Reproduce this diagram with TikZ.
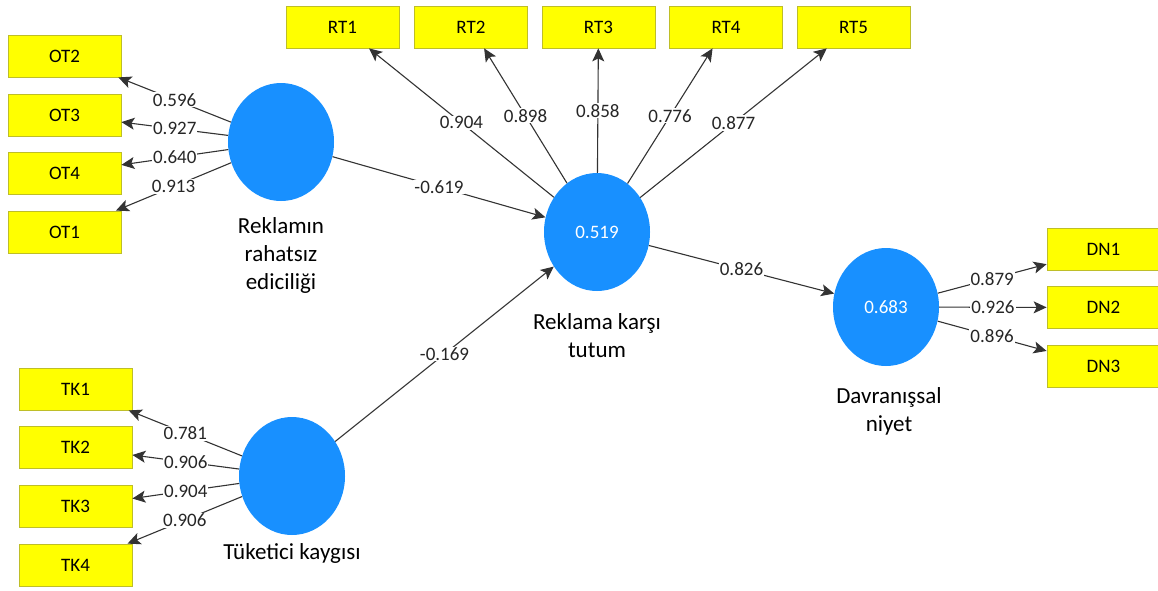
\documentclass[tikz,border=0pt]{standalone}
\usepackage{fontspec}
\setmainfont{Carlito}
\usetikzlibrary{arrows.meta}
\usetikzlibrary{shapes.geometric}

\definecolor{lvblue}{RGB}{24,144,255}
\definecolor{mvyellow}{RGB}{255,255,0}
\definecolor{mvborder}{RGB}{190,190,40}

\begin{document}
\begin{tikzpicture}[x=1pt, y=-1pt,
    item/.style={rectangle, draw=mvborder, fill=mvyellow, line width=0.8pt, minimum width=113pt, minimum height=42pt, inner sep=0pt, font=\fontsize{19}{19}\selectfont},
    latent/.style={ellipse, fill=lvblue, minimum width=106pt, minimum height=118pt, inner sep=0pt, text=white, font=\fontsize{19}{19}\selectfont},
    lvname/.style={align=center, font=\fontsize{23}{28}\selectfont},
    link/.style={draw=black!80, line width=1.1pt, -{Stealth[length=13pt, width=12pt, inset=3pt]}},
    coef/.style={fill=white, inner sep=1pt, text=black!85, font=\fontsize{19}{19}\selectfont}]
    \useasboundingbox (0,0) rectangle (1158,590);

    % latent variables
    \node[latent] (ot) at (281,142) {};
    \node[latent] (rt) at (597,232) {0.519};
    \node[latent] (dn) at (886,307) {0.683};
    \node[latent] (tk) at (292,476) {};

    \node[lvname] (otname) at (281,255) {Reklamın\\rahatsız\\ediciliği};
    \node[lvname] (rtname) at (597,336) {Reklama karşı\\tutum};
    \node[lvname] (dnname) at (889,411) {Davranışsal\\niyet};
    \node[lvname] (tkname) at (292,553) {Tüketici kaygısı};

    % indicators
    \node[item] (ot2) at (64.5,56) {OT2};
    \node[item] (ot3) at (64.5,115) {OT3};
    \node[item] (ot4) at (64.5,173) {OT4};
    \node[item] (ot1) at (64.5,232) {OT1};

    \node[item] (tk1) at (75.5,389) {TK1};
    \node[item] (tk2) at (75.5,447.5) {TK2};
    \node[item] (tk3) at (75.5,506.5) {TK3};
    \node[item] (tk4) at (75.5,565) {TK4};

    \node[item] (rt1) at (342.5,27) {RT1};
    \node[item] (rt2) at (471,27) {RT2};
    \node[item] (rt3) at (598.5,27) {RT3};
    \node[item] (rt4) at (726,27) {RT4};
    \node[item] (rt5) at (853.5,27) {RT5};

    \node[item] (dn1) at (1103.5,249) {DN1};
    \node[item] (dn2) at (1103.5,307.5) {DN2};
    \node[item] (dn3) at (1103.5,366.5) {DN3};

    % structural paths
    \draw[link] (ot) -- node[coef] {-0.619} (rt);
    \draw[link] (tk) -- node[coef] {-0.169} (rt);
    \draw[link] (rt) -- node[coef] {0.826} (dn);

    % loadings
    \draw[link] (ot) -- node[coef] {0.596} (ot2);
    \draw[link] (ot) -- node[coef] {0.927} (ot3);
    \draw[link] (ot) -- node[coef] {0.640} (ot4);
    \draw[link] (ot) -- node[coef] {0.913} (ot1);

    \draw[link] (tk) -- node[coef] {0.781} (tk1);
    \draw[link] (tk) -- node[coef] {0.906} (tk2);
    \draw[link] (tk) -- node[coef] {0.904} (tk3);
    \draw[link] (tk) -- node[coef] {0.906} (tk4);

    \draw[link] (rt) -- node[coef] {0.904} (rt1);
    \draw[link] (rt) -- node[coef] {0.898} (rt2);
    \draw[link] (rt) -- node[coef] {0.858} (rt3);
    \draw[link] (rt) -- node[coef] {0.776} (rt4);
    \draw[link] (rt) -- node[coef] {0.877} (rt5);

    \draw[link] (dn) -- node[coef] {0.879} (dn1);
    \draw[link] (dn) -- node[coef] {0.926} (dn2);
    \draw[link] (dn) -- node[coef] {0.896} (dn3);
\end{tikzpicture}
\end{document}
